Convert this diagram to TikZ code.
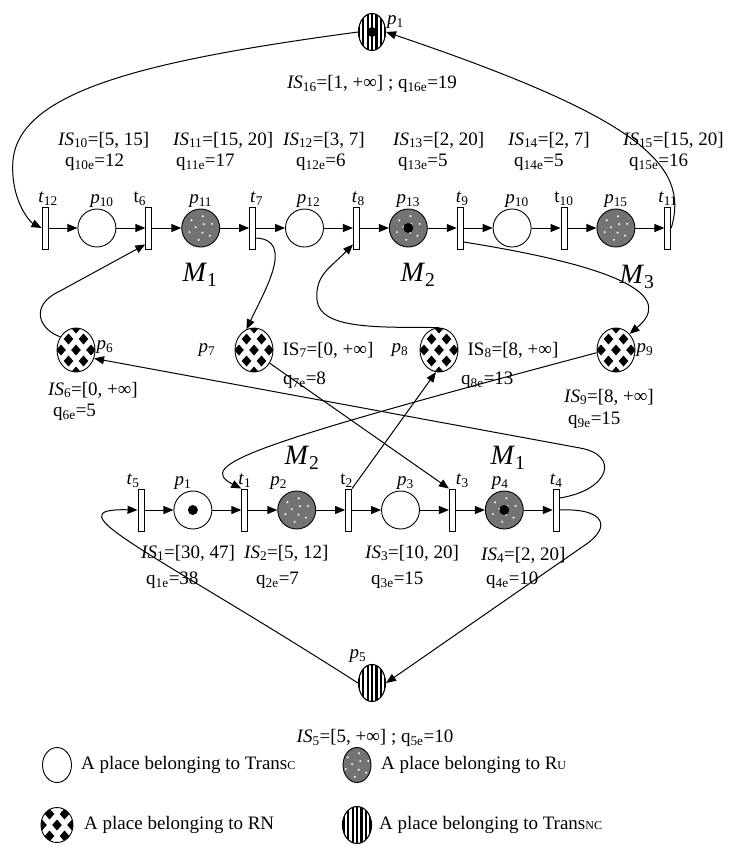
\documentclass[tikz,border=0pt]{standalone}
\usepackage{fontspec}
\setmainfont{Liberation Serif}
\usetikzlibrary{shapes.geometric, arrows.meta, positioning}
\newcommand{\smallsub}[1]{{\fontsize{12}{12}\selectfont #1}}

\begin{document}
\begin{tikzpicture}[
    x=1pt, y=-1pt,
    node distance=29pt,
    place/.style={circle, draw, line width=0.9pt, minimum size=38pt, inner sep=0pt},
    ruplace/.style={place, fill=black!55, path picture={
        \foreach \a in {20,80,...,320} \fill[white] ([shift={(\a:12pt)}]path picture bounding box.center) circle (1.1pt);
        \foreach \a in {50,170,290} \fill[white] ([shift={(\a:5pt)}]path picture bounding box.center) circle (1.1pt);}},
    rnplace/.style={ellipse, draw, line width=0.9pt, minimum width=38pt, minimum height=44pt, inner sep=0pt, path picture={
        \foreach \dx/\dy in {0/0, -15/0, 15/0, -7.5/11, 7.5/11, -7.5/-11, 7.5/-11, 0/22, 0/-22}
          \fill ([shift={(\dx,\dy)}]path picture bounding box.center) ++(0,5.5) -- ++(4.8,-5.5) -- ++(-4.8,-5.5) -- ++(-4.8,5.5) -- cycle;}},
    ncplace/.style={ellipse, draw, line width=1.1pt, minimum width=27pt, minimum height=37pt, inner sep=0pt, path picture={
        \foreach \i in {-3,...,3}
          \draw[line width=2.2pt] ([xshift=\i*4.4pt]path picture bounding box.north) -- ([xshift=\i*4.4pt]path picture bounding box.south);}},
    trans/.style={rectangle, draw, fill=white, line width=0.9pt, minimum width=6pt, minimum height=42pt, inner sep=0pt},
    arc/.style={-{Triangle[length=10pt,width=8pt]}, line width=1pt},
    lbl/.style={font=\fontsize{19}{21}\selectfont, inner sep=1pt},
    mlbl/.style={font=\fontsize{28}{30}\selectfont, inner sep=1pt}
]
\useasboundingbox (0,0) rectangle (750,855);

% top place
\node[ncplace] (p1t) at (372,32) {};
\node[lbl, anchor=west] (lp1t) at (386,22) {\textit{p}\textsubscript{1}};
\node[lbl] (is16) at (372,84) {\textit{IS}\textsubscript{16}=[1, +∞] ; q\textsubscript{16e}=19};

% upper row
\node[trans] (t12) at (45,228) {};
\node[place, right=of t12] (p10) {};
\node[trans, right=of p10] (t6) {};
\node[ruplace, right=of t6] (p11) {};
\node[trans, right=of p11] (t7) {};
\node[place, right=of t7] (p12) {};
\node[trans, right=of p12] (t8) {};
\node[ruplace, right=of t8] (p13) {};
\node[trans, right=of p13] (t9) {};
\node[place, right=of t9] (p10r) {};
\node[trans, right=of p10r] (t10) {};
\node[ruplace, right=of t10] (p15) {};
\node[trans, right=of p15] (t11) {};

\node[lbl, above=0pt of t12, xshift=3pt] (lt12) {\textit{t}\textsubscript{12}};
\node[lbl, above=0pt of p10, xshift=5pt] (lp10) {\textit{p}\textsubscript{10}};
\node[lbl, above=0pt of t6, xshift=-9pt] (lt6) {t\textsubscript{6}};
\node[lbl, above=0pt of p11] (lp11) {\textit{p}\textsubscript{11}};
\node[lbl, above=0pt of t7, xshift=4pt] (lt7) {\textit{t}\textsubscript{7}};
\node[lbl, above=0pt of p12, xshift=4pt] (lp12) {\textit{p}\textsubscript{12}};
\node[lbl, above=0pt of t8, xshift=2pt] (lt8) {\textit{t}\textsubscript{8}};
\node[lbl, above=0pt of p13] (lp13) {\textit{p}\textsubscript{13}};
\node[lbl, above=0pt of t9, xshift=2pt] (lt9) {\textit{t}\textsubscript{9}};
\node[lbl, above=0pt of p10r, xshift=5pt] (lp10r) {\textit{p}\textsubscript{10}};
\node[lbl, above=0pt of t10] (lt10) {t\textsubscript{10}};
\node[lbl, above=0pt of p15] (lp15) {\textit{p}\textsubscript{15}};
\node[lbl, above=0pt of t11] (lt11) {\textit{t}\textsubscript{11}};

\node[lbl, anchor=west] (is10) at (57,140) {\textit{IS}\textsubscript{10}=[5, 15]};
\node[lbl, anchor=west] (q10) at (64,162) {q\textsubscript{10e}=12};
\node[lbl, anchor=west] (is11) at (172,140) {\textit{IS}\textsubscript{11}=[15, 20]};
\node[lbl, anchor=west] (q11) at (175,162) {q\textsubscript{11e}=17};
\node[lbl, anchor=west] (is12) at (282,140) {\textit{IS}\textsubscript{12}=[3, 7]};
\node[lbl, anchor=west] (q12) at (295,162) {q\textsubscript{12e}=6};
\node[lbl, anchor=west] (is13) at (392,140) {\textit{IS}\textsubscript{13}=[2, 20]};
\node[lbl, anchor=west] (q13) at (397,162) {q\textsubscript{13e}=5};
\node[lbl, anchor=west] (is14) at (507,140) {\textit{IS}\textsubscript{14}=[2, 7]};
\node[lbl, anchor=west] (q14) at (513,162) {q\textsubscript{14e}=5};
\node[lbl, anchor=west] (is15) at (622,140) {\textit{IS}\textsubscript{15}=[15, 20]};
\node[lbl, anchor=west] (q15) at (628,162) {q\textsubscript{15e}=16};

\node[mlbl] (m1u) at (200,275) {\textit{M}\textsubscript{1}};
\node[mlbl] (m2u) at (418,275) {\textit{M}\textsubscript{2}};
\node[mlbl] (m3u) at (637,277) {\textit{M}\textsubscript{3}};

% resource places
\node[rnplace] (p6) at (76,350) {};
\node[rnplace] (p7) at (254,350) {};
\node[rnplace] (p8) at (439,350) {};
\node[rnplace] (p9) at (616,350) {};
\node[lbl, right=0pt of p6, yshift=3pt] (lp6) {\textit{p}\textsubscript{6}};
\node[lbl, left=18pt of p7] (lp7) {\textit{p}\textsubscript{7}};
\node[lbl, left=10pt of p8] (lp8) {\textit{p}\textsubscript{8}};
\node[lbl, right=0pt of p9] (lp9) {\textit{p}\textsubscript{9}};
\node[lbl, anchor=west] (is6) at (47,390) {\textit{IS}\textsubscript{6}=[0, +∞]};
\node[lbl, anchor=west] (q6) at (52,412) {q\textsubscript{6e}=5};
\node[lbl, right=8pt of p7] (is7) {IS\textsubscript{7}=[0, +∞]};
\node[lbl, anchor=west] (q7) at (282,380) {q\textsubscript{7e}=8};
\node[lbl, right=8pt of p8] (is8) {IS\textsubscript{8}=[8, +∞]};
\node[lbl, anchor=west] (q8) at (460,380) {q\textsubscript{8e}=13};
\node[lbl, anchor=west] (is9) at (563,397) {\textit{IS}\textsubscript{9}=[8, +∞]};
\node[lbl, anchor=west] (q9) at (567,420) {q\textsubscript{9e}=15};

% lower row
\node[trans] (t5) at (141,510) {};
\node[place, right=of t5] (p1) {};
\node[trans, right=of p1] (t1) {};
\node[ruplace, right=of t1] (p2) {};
\node[trans, right=of p2] (t2) {};
\node[place, right=of t2] (p3) {};
\node[trans, right=of p3] (t3) {};
\node[ruplace, right=of t3] (p4) {};
\node[trans, right=of p4] (t4) {};

\node[lbl, above=0pt of t5, xshift=-8pt] (lt5) {\textit{t}\textsubscript{5}};
\node[lbl, above=0pt of p1, xshift=-10pt] (lp1) {\textit{p}\textsubscript{1}};
\node[lbl, above=0pt of t1] (lt1) {\textit{t}\textsubscript{1}};
\node[lbl, above=0pt of p2, xshift=-18pt] (lp2) {\textit{p}\textsubscript{2}};
\node[lbl, above=0pt of t2, xshift=-2pt] (lt2) {t\textsubscript{2}};
\node[lbl, above=0pt of p3, xshift=5pt] (lp3) {\textit{p}\textsubscript{3}};
\node[lbl, above=0pt of t3, xshift=10pt] (lt3) {\textit{t}\textsubscript{3}};
\node[lbl, above=0pt of p4, xshift=-4pt] (lp4) {\textit{p}\textsubscript{4}};
\node[lbl, above=0pt of t4] (lt4) {\textit{t}\textsubscript{4}};

\node[mlbl] (m2l) at (302,458) {\textit{M}\textsubscript{2}};
\node[mlbl] (m1l) at (508,458) {\textit{M}\textsubscript{1}};

\node[lbl, anchor=west] (is1) at (140,553) {\textit{IS}\textsubscript{1}=[30, 47]};
\node[lbl, anchor=west] (q1) at (145,580) {q\textsubscript{1e}=38};
\node[lbl, anchor=west] (is2) at (243,553) {\textit{IS}\textsubscript{2}=[5, 12]};
\node[lbl, anchor=west] (q2) at (255,580) {q\textsubscript{2e}=7};
\node[lbl, anchor=west] (is3) at (364,553) {\textit{IS}\textsubscript{3}=[10, 20]};
\node[lbl, anchor=west] (q3) at (370,580) {q\textsubscript{3e}=15};
\node[lbl, anchor=west] (is4) at (480,555) {\textit{IS}\textsubscript{4}=[2, 20]};
\node[lbl, anchor=west] (q4) at (485,580) {q\textsubscript{4e}=10};

% bottom place
\node[ncplace] (p5) at (372,683) {};
\node[lbl, above=0pt of p5, xshift=-14pt] (lp5) {\textit{p}\textsubscript{5}};
\node[lbl] (is5) at (375,738) {\textit{IS}\textsubscript{5}=[5, +∞] ; q\textsubscript{5e}=10};

% tokens
\foreach \n in {p1t, p13, p1, p4} \fill (\n) circle (5pt);

% arcs along the rows
\draw[arc] (t12) -- (p10); \draw[arc] (p10) -- (t6); \draw[arc] (t6) -- (p11); \draw[arc] (p11) -- (t7);
\draw[arc] (t7) -- (p12); \draw[arc] (p12) -- (t8); \draw[arc] (t8) -- (p13); \draw[arc] (p13) -- (t9);
\draw[arc] (t9) -- (p10r); \draw[arc] (p10r) -- (t10); \draw[arc] (t10) -- (p15); \draw[arc] (p15) -- (t11);
\draw[arc] (t5) -- (p1); \draw[arc] (p1) -- (t1); \draw[arc] (t1) -- (p2); \draw[arc] (p2) -- (t2);
\draw[arc] (t2) -- (p3); \draw[arc] (p3) -- (t3); \draw[arc] (t3) -- (p4); \draw[arc] (p4) -- (t4);

% long arcs
\draw[arc] (p1t.west) .. controls (150,60) and (20,90) .. (13,160) .. controls (10,200) and (30,222) .. (t12.west);
\draw[arc] (t11.east) .. controls (690,165) and (640,118) .. (p1t.east);
\draw[arc] (p6.140) .. controls (40,330) and (28,306) .. (60,291) -- ([yshift=5pt]t6.south west);
\draw[arc] ([yshift=-10pt]t7.east) .. controls (295,240) and (265,290) .. (p7.110);
\draw[arc] (p8.north) .. controls (380,327) and (320,330) .. (317,300) .. controls (315,275) and (330,268) .. ([yshift=5pt]t8.south west);
\draw[arc] ([yshift=-14pt]t9.east) .. controls (640,270) and (670,300) .. (p9.50);
\draw[arc] (p9.188) .. controls (250,445) and (195,465) .. (t1.north west);
\draw[arc] ([yshift=12pt]t4.east) .. controls (610,490) and (620,455) .. (580,448) -- (p6.-25);
\draw[arc] (t2.north east) -- (p8.262);
\draw[arc] (p7.-40) -- (t3.north west);
\draw[arc] (t4.east) .. controls (605,508) and (612,527) .. (585,545) -- (p5.east);
\draw[arc] (p5.west) .. controls (150,550) and (50,508) .. (t5.west);

% legend
\node[place, ellipse, minimum width=29pt, minimum height=35pt] (lgc) at (57,765) {};
\node[lbl, anchor=west] (lgct) at (80,765) {A place belonging to Trans\smallsub{C}};
\node[ruplace, ellipse, minimum width=28pt, minimum height=35pt] (lgu) at (357,765) {};
\node[lbl, anchor=west] (lgut) at (380,765) {A place belonging to R\smallsub{U}};
\node[rnplace, minimum width=32pt, minimum height=35pt] (lgn) at (57,825) {};
\node[lbl, anchor=west] (lgnt) at (83,825) {A place belonging to RN};
\node[ncplace, minimum width=29pt, minimum height=37pt] (lgnc) at (357,825) {};
\node[lbl, anchor=west] (lgnct) at (378,825) {A place belonging to Trans\smallsub{NC}};
\end{tikzpicture}
\end{document}
